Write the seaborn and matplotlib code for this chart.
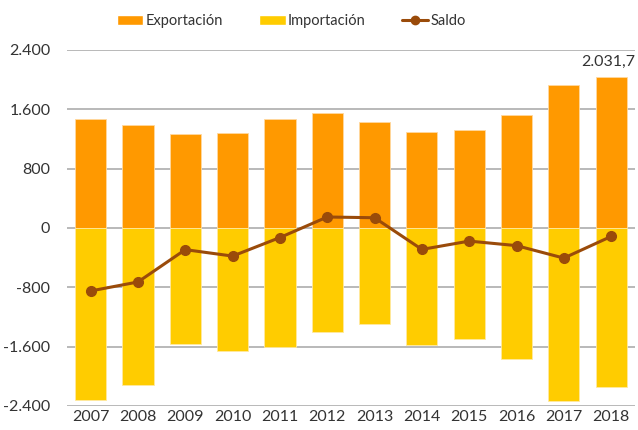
import numpy as np
import pandas as pd
import matplotlib
matplotlib.use("Agg")
import matplotlib.pyplot as plt
from matplotlib.patches import Patch
from matplotlib.lines import Line2D
from matplotlib.ticker import FuncFormatter
import seaborn as sns

# dati
anni = ["2007", "2008", "2009", "2010", "2011", "2012",
        "2013", "2014", "2015", "2016", "2017", "2018"]
exportacion = [1473, 1392, 1271, 1284, 1473, 1545,
               1432, 1289, 1325, 1527, 1922, 2031.7]
importacion = [-2323, -2121, -1564, -1663, -1600, -1398,
               -1294, -1577, -1501, -1766, -2327, -2148]
saldo = [-850, -729, -293, -380, -130, 147,
         137, -290, -178, -239, -407, -115]

c_exp = "#FF9900"
c_imp = "#FFCC00"
c_sal = "#9A4B0A"

sns.set_style("white")
plt.rcParams["font.family"] = ["Lato", "DejaVu Sans"]

fig = plt.figure(figsize=(6.38, 4.30), dpi=100)
ax = fig.add_axes([0.105, 0.056, 0.89, 0.828])

df = pd.DataFrame({"anno": anni, "exp": exportacion, "imp": importacion, "saldo": saldo})

sns.barplot(data=df, x="anno", y="exp", color=c_exp, width=0.66,
            saturation=1, edgecolor="#FFD9A0", linewidth=0.6, ax=ax, zorder=2)
sns.barplot(data=df, x="anno", y="imp", color=c_imp, width=0.66,
            saturation=1, edgecolor="#FFE9A0", linewidth=0.6, ax=ax, zorder=2)
ax.plot(range(len(anni)), df["saldo"], color=c_sal, lw=2.2,
        marker="o", markersize=7, zorder=4)

ax.set_ylim(-2400, 2400)
ax.set_xlim(-0.5, len(anni) - 0.5)
ax.set_yticks([-2400, -1600, -800, 0, 800, 1600, 2400])
ax.yaxis.set_major_formatter(FuncFormatter(lambda v, p: f"{v:,.0f}".replace(",", ".")))
ax.grid(axis="y", color="#ADADAD", lw=1.2, zorder=0)
ax.set_axisbelow(True)
for s in ax.spines.values():
    s.set_visible(False)
ax.set_xlabel("")
ax.set_ylabel("")
ax.tick_params(axis="y", length=0, pad=12, labelsize=11.5, labelcolor="#333333")
ax.tick_params(axis="x", length=0, pad=3, labelsize=11.5, labelcolor="#333333")

# etichetta ultimo valore
ax.text(11.5, exportacion[-1] + 110, "2.031,7", ha="right", va="bottom",
        fontsize=11.5, color="#333333")

handles = [
    Patch(facecolor=c_exp, label="Exportación"),
    Patch(facecolor=c_imp, label="Importación"),
    Line2D([0], [0], color=c_sal, lw=2.2, marker="o", markersize=6, label="Saldo"),
]
fig.legend(handles=handles, loc="center", bbox_to_anchor=(0.457, 0.951), ncol=3,
           frameon=False, fontsize=10.5, handlelength=1.8, handleheight=0.6,
           handletextpad=0.15, columnspacing=2.5, labelcolor="#333333")

fig.savefig("out.png", dpi=100)
